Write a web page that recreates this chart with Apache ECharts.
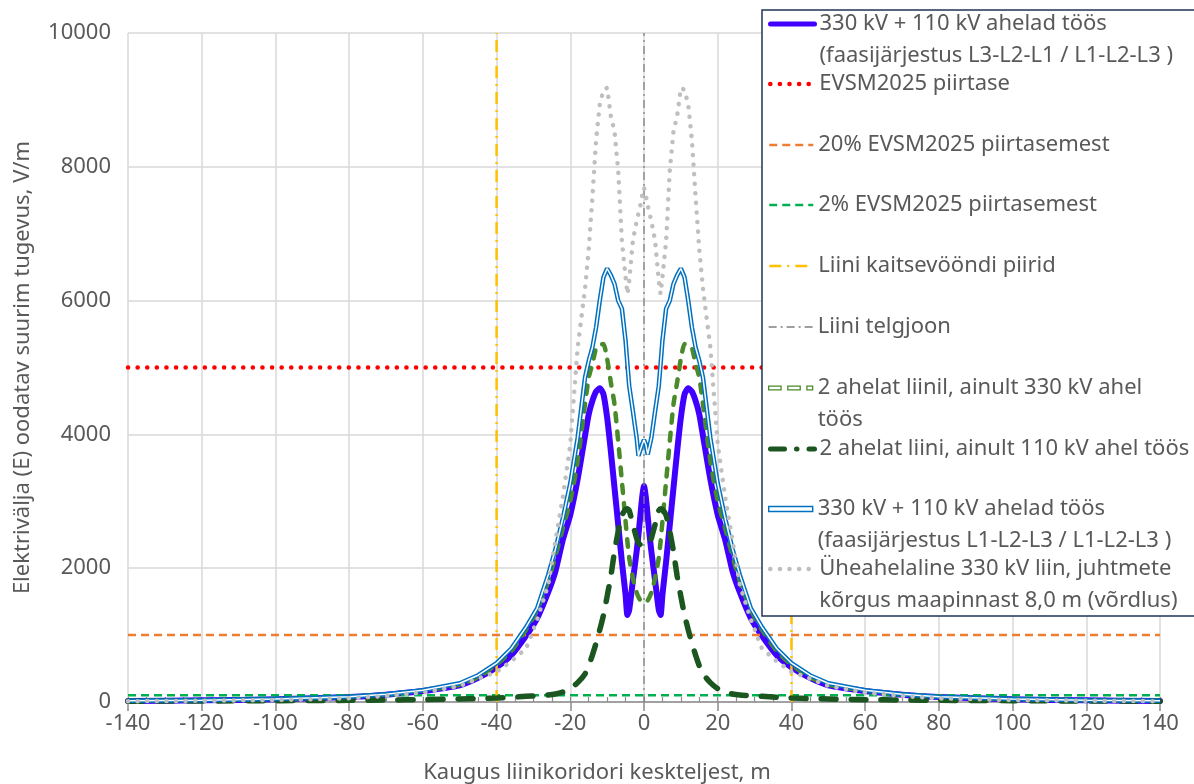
<!DOCTYPE html>
<html>
<head>
<meta charset="utf-8">
<script src="https://cdn.jsdelivr.net/npm/echarts@6/dist/echarts.min.js"></script>
<style>
  html, body { margin: 0; padding: 0; background: #fff; }
  #chart { width: 1194px; height: 784px; }
</style>
</head>
<body>
<div id="chart"></div>
<script>
// kaugus liinikoridori keskteljest, m
const dist = [-140, -120, -100, -80, -70, -60, -50, -45, -40, -36, -32, -29, -26, -24, -22, -20, -18, -16, -15, -14,
  -13, -12, -11, -10, -9, -8, -7, -6, -5, -4.5, -4, -3, -2, -1.5, -1, -0.5, 0,
  0.5, 1, 1.5, 2, 3, 4, 4.5, 5, 6, 7, 8, 9, 10, 11, 12, 13, 14, 15, 16, 18, 20, 22, 24, 26, 29, 32, 36, 40, 45, 50,
  60, 70, 80, 100, 120, 140];

// 330 kV + 110 kV, L3-L2-L1 / L1-L2-L3
const eBothReversed = [15, 25, 40, 75, 110, 165, 250, 360, 520, 700, 990, 1250, 1640, 1960, 2430, 2800, 3330, 3980, 4300, 4500,
  4640, 4690, 4600, 4250, 3750, 3200, 2650, 2100, 1600, 1300, 1380, 1820, 2250, 2500, 2780, 3060, 3230,
  3060, 2780, 2500, 2250, 1820, 1380, 1300, 1600, 2100, 2650, 3200, 3750, 4250, 4600, 4690, 4640, 4500, 4300, 3980,
  3330, 2800, 2430, 1960, 1640, 1250, 990, 700, 520, 360, 250, 165, 110, 75, 40, 25, 15];

// ainult 330 kV ahel töös
const eOnly330 = [18, 28, 42, 80, 115, 170, 260, 370, 560, 760, 1080, 1370, 1800, 2180, 2600, 3000, 3600, 4450, 4850, 5050,
  5290, 5340, 5350, 5130, 4780, 4450, 3900, 3300, 2700, 2400, 2150, 1850, 1640, 1570, 1520, 1495, 1485,
  1495, 1520, 1570, 1640, 1850, 2150, 2400, 2700, 3300, 3900, 4450, 4780, 5130, 5350, 5340, 5290, 5050, 4850, 4450,
  3600, 3000, 2600, 2180, 1800, 1370, 1080, 760, 560, 370, 260, 170, 115, 80, 42, 28, 18];

// ainult 110 kV ahel töös
const eOnly110 = [12, 15, 20, 25, 30, 35, 45, 50, 60, 70, 85, 95, 105, 120, 150, 200, 290, 420, 540, 700,
  880, 1080, 1300, 1580, 1880, 2250, 2550, 2790, 2880, 2890, 2860, 2650, 2450, 2380, 2350, 2340, 2330,
  2340, 2350, 2380, 2450, 2650, 2860, 2890, 2880, 2790, 2550, 2250, 1880, 1580, 1300, 1080, 880, 700, 540, 420,
  290, 200, 150, 120, 105, 95, 85, 70, 60, 50, 45, 35, 30, 25, 20, 15, 12];

// 330 kV + 110 kV, L1-L2-L3 / L1-L2-L3
const eBothSame = [18, 28, 45, 80, 115, 175, 280, 400, 580, 800, 1120, 1400, 1900, 2290, 2750, 3270, 3950, 4850, 5100, 5300,
  5600, 6000, 6350, 6480, 6380, 6250, 6000, 5880, 5400, 5050, 4720, 4340, 3950, 3680, 3700, 3850, 3920,
  3850, 3700, 3680, 3950, 4340, 4720, 5050, 5400, 5880, 6000, 6250, 6380, 6480, 6350, 6000, 5600, 5300, 5100, 4850,
  3950, 3270, 2750, 2290, 1900, 1400, 1120, 800, 580, 400, 280, 175, 115, 80, 45, 28, 18];

// üheahelaline 330 kV liin, 8,0 m
const eSingle330 = [12, 18, 30, 55, 90, 140, 240, 350, 450, 610, 800, 1230, 1750, 2420, 3070, 3850, 5300, 6180, 6760, 7540,
  8400, 8930, 9150, 9180, 8760, 8530, 7940, 6890, 6350, 6100, 6300, 6900, 7190, 7300, 7420, 7570, 7690,
  7570, 7420, 7300, 7190, 6900, 6300, 6100, 6350, 6890, 7940, 8530, 8760, 9180, 9150, 8930, 8400, 7540, 6760, 6180,
  5300, 3850, 3070, 2420, 1750, 1230, 800, 610, 450, 350, 240, 140, 90, 55, 30, 18, 12];

// piirtasemed, V/m
const limitLevels = [5000, 1000, 100];
// kaitsevööndi piirid ja telgjoon, m
const zoneEdges = [-40, 40];
const axisLine = [0];
const xRange = [-140, 140];
const yRange = [0, 10000];

const names = [
  ['330 kV + 110 kV ahelad töös', '(faasijärjestus L3-L2-L1 / L1-L2-L3 )'],
  ['EVSM2025 piirtase'],
  ['20% EVSM2025 piirtasemest'],
  ['2% EVSM2025 piirtasemest'],
  ['Liini kaitsevööndi piirid'],
  ['Liini telgjoon'],
  ['2 ahelat liinil, ainult 330 kV ahel', 'töös'],
  ['2 ahelat liini, ainult 110 kV ahel töös'],
  ['330 kV + 110 kV ahelad töös', '(faasijärjestus L1-L2-L3 / L1-L2-L3 )'],
  ['Üheahelaline 330 kV liin, juhtmete', 'kõrgus maapinnast 8,0 m (võrdlus)']
];
const seriesName = names.map(l => l.join(' '));

const FONT = 'Noto Sans';
const TXT = '#595959';

const pairs = vals => dist.map((d, i) => [d, vals[i]]);
const hLine = v => [[xRange[0], v], [xRange[1], v]];
const vLine = x => [[x, yRange[0]], [x, yRange[1]]];

const base = { type: 'line', symbol: 'none', animation: false, silent: true };

const series = [
  Object.assign({}, base, {
    name: seriesName[0], data: pairs(eBothReversed), smooth: 0.2,
    lineStyle: { color: '#4000ff', width: 6, cap: 'round', join: 'round' }, itemStyle: { color: '#4000ff' }
  }),
  Object.assign({}, base, {
    name: seriesName[1], data: hLine(limitLevels[0]),
    lineStyle: { color: '#ff0000', width: 4.5, type: [0.1, 9.5], cap: 'round' }, itemStyle: { color: '#ff0000' }
  }),
  Object.assign({}, base, {
    name: seriesName[2], data: hLine(limitLevels[1]),
    lineStyle: { color: '#ed7d31', width: 2.5, type: [8, 5] }, itemStyle: { color: '#ed7d31' }
  }),
  Object.assign({}, base, {
    name: seriesName[3], data: hLine(limitLevels[2]),
    lineStyle: { color: '#00b050', width: 2.5, type: [8, 5] }, itemStyle: { color: '#00b050' }
  }),
  Object.assign({}, base, {
    name: seriesName[4], data: vLine(zoneEdges[0]),
    lineStyle: { color: '#ffc000', width: 2.5, type: [12, 6, 2, 6] }, itemStyle: { color: '#ffc000' }
  }),
  Object.assign({}, base, {
    name: seriesName[4], data: vLine(zoneEdges[1]),
    lineStyle: { color: '#ffc000', width: 2.5, type: [12, 6, 2, 6] }, itemStyle: { color: '#ffc000' }
  }),
  Object.assign({}, base, {
    name: seriesName[5], data: vLine(axisLine[0]),
    lineStyle: { color: '#7f7f7f', width: 1.3, type: [8, 4, 2, 4] }, itemStyle: { color: '#7f7f7f' }
  }),
  Object.assign({}, base, {
    name: seriesName[6], data: pairs(eOnly330), smooth: 0.2,
    lineStyle: { color: '#4a8a2a', width: 4.5, type: [8, 10], cap: 'round' }, itemStyle: { color: '#4a8a2a' }
  }),
  Object.assign({}, base, {
    name: seriesName[7], data: pairs(eOnly110), smooth: 0.2,
    lineStyle: { color: '#1b5520', width: 5.5, type: [15, 15], cap: 'round' }, itemStyle: { color: '#1b5520' }
  }),
  Object.assign({}, base, {
    name: seriesName[8], data: pairs(eBothSame),
    lineStyle: { color: '#0070c0', width: 4.5 }, itemStyle: { color: '#0070c0' }
  }),
  // topeltjoone valge sisu
  Object.assign({}, base, {
    name: '_sisejoon', data: pairs(eBothSame), legendHoverLink: false,
    lineStyle: { color: '#ffffff', width: 1.5 }, itemStyle: { color: '#ffffff' }
  }),
  Object.assign({}, base, {
    name: seriesName[9], data: pairs(eSingle330),
    lineStyle: { color: '#bfbfbf', width: 4.5, type: [0.1, 9.5], cap: 'round' }, itemStyle: { color: '#bfbfbf' }
  })
];

// legendi read (sümboli kõrgus)
const legendRows = [24, 84, 145, 205, 266, 327, 388, 449, 509, 569];
const LH = 32;
const noDot = { opacity: 0 };
const legendExtra = [
  { lineStyle: { width: 5 }, itemStyle: noDot },
  { lineStyle: { width: 4.5 }, itemStyle: noDot },
  { lineStyle: { width: 2.5 }, itemStyle: noDot },
  { lineStyle: { width: 2.5 }, itemStyle: noDot },
  { lineStyle: { width: 2.5 }, itemStyle: noDot },
  { lineStyle: { width: 1.3 }, itemStyle: noDot },
  { icon: 'path://M0 0h13v4h-13z M20 0h13v4h-13z M40 0h6v4h-6z', itemHeight: 4,
    itemStyle: { color: '#ffffff', borderColor: '#4a8a2a', borderWidth: 1.3 } },
  { lineStyle: { width: 5, type: [14, 12, 0.5, 12] }, itemStyle: noDot },
  { icon: 'rect', itemHeight: 5, itemStyle: { color: '#ffffff', borderColor: '#0070c0', borderWidth: 1.4 } },
  { lineStyle: { width: 4.5 }, itemStyle: noDot }
];

const legends = names.map((lines, i) => {
  const multi = lines.length > 1;
  return Object.assign({
    data: [seriesName[i]],
    left: 768,
    top: legendRows[i] - (multi ? LH * 1.5 : LH / 2),
    orient: 'vertical',
    padding: 0,
    itemWidth: 44,
    itemHeight: 14,
    z: 60,
    selectedMode: false,
    formatter: () => (multi ? '\n' + lines.join('\n') : lines[0]),
    textStyle: { fontFamily: FONT, fontSize: 22, color: TXT, lineHeight: LH }
  }, legendExtra[i]);
});

const chart = echarts.init(document.getElementById('chart'));
chart.setOption({
  animation: false,
  backgroundColor: '#ffffff',
  textStyle: { fontFamily: FONT },
  grid: { left: 128, right: 34, top: 33, bottom: 82, containLabel: false, outerBoundsMode: 'none' },
  xAxis: [
    {
      type: 'value', min: xRange[0], max: xRange[1], interval: 20,
      name: 'Kaugus liinikoridori keskteljest, m',
      nameLocation: 'middle', nameGap: 60,
      nameTextStyle: { fontFamily: FONT, fontSize: 22, color: TXT, padding: [0, 94, 0, 0] },
      axisLine: { show: true, onZero: false, lineStyle: { color: '#8c8c8c', width: 1.5 } },
      axisTick: { show: true, length: 9, lineStyle: { color: '#8c8c8c', width: 1.5 } },
      axisLabel: { fontFamily: FONT, fontSize: 22, color: TXT, margin: 11, formatter: v => String(v) },
      splitLine: { show: true, lineStyle: { color: '#d9d9d9', width: 1.5 } }
    },
    {
      // väikesed jaotised iga 5 m järel
      type: 'value', min: xRange[0], max: xRange[1], interval: 5, position: 'bottom',
      axisLine: { show: false },
      axisTick: { show: true, inside: true, length: 5, lineStyle: { color: '#8c8c8c', width: 1.2 } },
      axisLabel: { show: false },
      splitLine: { show: false }
    }
  ],
  yAxis: {
    type: 'value', min: yRange[0], max: yRange[1], interval: 2000,
    name: 'Elektrivälja (E) oodatav suurim tugevus, V/m',
    nameLocation: 'middle', nameGap: 94,
    nameTextStyle: { fontFamily: FONT, fontSize: 22, color: TXT },
    axisLine: { show: false },
    axisTick: { show: false },
    axisLabel: { fontFamily: FONT, fontSize: 22, color: TXT, margin: 17, formatter: v => String(v) },
    splitLine: { show: true, lineStyle: { color: '#d9d9d9', width: 1.5 } }
  },
  legend: legends,
  graphic: [{
    type: 'rect', z: 50, silent: true,
    shape: { x: 762, y: 10, width: 460, height: 606 },
    style: { fill: '#ffffff', stroke: '#1f3556', lineWidth: 1.5 }
  }],
  series: series
});
</script>
</body>
</html>
